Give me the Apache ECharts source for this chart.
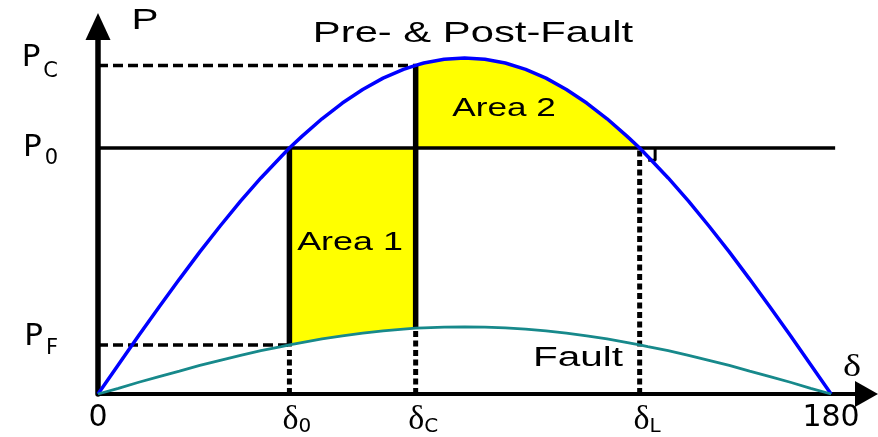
<!DOCTYPE html>
<html><head><meta charset="utf-8">
<script src="https://cdn.jsdelivr.net/npm/echarts@6/dist/echarts.min.js"></script>
<style>html,body{margin:0;padding:0;background:#fff}#c{width:878px;height:437px}</style>
</head><body><div id="c"></div>
<script>
// rotor angle samples (degrees)
const delta = [0,5,10,15,20,25,30,35,40,45,47,50,55,60,65,70,75,78,80,85,90,95,100,105,110,115,120,125,130,133,135,140,145,150,155,160,165,170,175,180];
// Pre- & Post-Fault power curve (per unit of Pmax)
const prePostFault = [0,0.087,0.174,0.259,0.342,0.423,0.500,0.574,0.643,0.707,0.732,0.766,0.819,0.866,0.906,0.940,0.966,0.978,0.985,0.996,1.000,0.996,0.985,0.966,0.940,0.906,0.866,0.819,0.766,0.732,0.707,0.643,0.574,0.500,0.423,0.342,0.259,0.174,0.087,0];
// Fault power curve
const fault = [0,0.017,0.035,0.052,0.068,0.085,0.100,0.115,0.129,0.141,0.146,0.153,0.164,0.173,0.181,0.188,0.193,0.196,0.197,0.199,0.200,0.199,0.197,0.193,0.188,0.181,0.173,0.164,0.153,0.146,0.141,0.129,0.115,0.100,0.085,0.068,0.052,0.035,0.017,0];
// key angles and powers
const d0 = 47, dC = 78, dL = 133;
const P0 = 0.732, PC = 0.978, PF = 0.146, FC = 0.196;
// tick labels
const xTickValues = [0, 47, 78, 133, 180];
const xTickMain = ['0', 'δ', 'δ', 'δ', '180'];
const xTickSub = ['', '0', 'C', 'L', ''];
const yTickValues = [0.146, 0.732, 0.978];
const yTickMain = ['P', 'P', 'P'];
const yTickSub = ['F', '0', 'C'];
const texts = ['Pre- & Post-Fault', 'Area 1', 'Area 2', 'Fault', 'P', 'δ'];

const chart = echarts.init(document.getElementById('c'));

function seg(pts, width, type) {
  return {type: 'line', data: pts, symbol: 'none', silent: true, animation: false, z: 3,
    lineStyle: {color: '#000', width: width, type: type || 'solid', cap: 'butt'}};
}

function areaPoints(idx) {
  const pts = [];
  if (idx === 0) {
    pts.push([d0, P0], [dC, P0]);
    for (let i = delta.length - 1; i >= 0; i--) if (delta[i] >= d0 && delta[i] <= dC) pts.push([delta[i], fault[i]]);
  } else {
    pts.push([dC, P0]);
    for (let i = 0; i < delta.length; i++) if (delta[i] >= dC && delta[i] <= dL) pts.push([delta[i], prePostFault[i]]);
    pts.push([dL, P0]);
  }
  return pts;
}

const yRichStyles = [
  {p: {padding: [0, 3, 16, 0]}, s: {padding: [7, 0, 0, 0]}},
  {p: {padding: [0, 3, 0, 0]}, s: {padding: [22, 0, 0, 0]}},
  {p: {padding: [0, 3, 14, 0]}, s: {padding: [13, 0, 0, 0]}}
];
const yRich = {};
yRichStyles.forEach((st, i) => {
  yRich['p' + i] = Object.assign({fontSize: 31, fontFamily: 'DejaVu Sans', color: '#000', verticalAlign: 'middle'}, st.p);
  yRich['s' + i] = Object.assign({fontSize: 21, fontFamily: 'DejaVu Sans', color: '#000', verticalAlign: 'middle'}, st.s);
});

function gtext(text, x, y, size, scaleX, family) {
  return {type: 'text', x: x, y: y, scaleX: scaleX, silent: true, z: 100,
    style: {text: text, font: size + 'px ' + (family || '"Liberation Sans"'), fill: '#000',
      align: 'center', verticalAlign: 'middle', textAlign: 'center', textVerticalAlign: 'middle'}};
}

const option = {
  animation: false,
  backgroundColor: '#fff',
  grid: {left: 98, right: 11.5, top: 26.5, bottom: 43},
  xAxis: {
    type: 'value', min: 0, max: 188.7,
    axisLine: {show: true, symbol: ['none', 'triangle'], symbolSize: [26, 23], lineStyle: {color: '#000', width: 4}},
    axisTick: {show: false}, splitLine: {show: false},
    axisLabel: {
      customValues: xTickValues, margin: 9,
      formatter: function (v) {
        const i = xTickValues.indexOf(v);
        if (i < 0) return '';
        return xTickSub[i] ? '{d|' + xTickMain[i] + '}{s|' + xTickSub[i] + '}' : '{n|' + xTickMain[i] + '}';
      },
      rich: {
        n: {fontSize: 30, fontFamily: 'DejaVu Sans', color: '#000', verticalAlign: 'middle', padding: [0, 0, 0, 0]},
        d: {fontSize: 34, fontFamily: 'Liberation Serif', color: '#000', verticalAlign: 'middle', padding: [0, 0, 0, 15]},
        s: {fontSize: 20, fontFamily: 'DejaVu Sans', color: '#000', verticalAlign: 'middle', padding: [13, 0, 0, 0]}
      }
    }
  },
  yAxis: {
    type: 'value', min: 0, max: 1.0937,
    axisLine: {show: true, symbol: ['none', 'triangle'], symbolSize: [25, 27], lineStyle: {color: '#000', width: 5.5}},
    axisTick: {show: false}, splitLine: {show: false},
    axisLabel: {
      customValues: yTickValues, margin: 40, align: 'right',
      formatter: function (v) {
        const i = yTickValues.indexOf(v);
        if (i < 0) return '';
        return '{p' + i + '|' + yTickMain[i] + '}{s' + i + '|' + yTickSub[i] + '}';
      },
      rich: yRich
    }
  },
  graphic: [
    gtext(texts[0], 473, 34, 29, 1.44),
    gtext(texts[1], 350, 243, 26, 1.38),
    gtext(texts[2], 504, 109, 26, 1.35),
    gtext(texts[3], 578, 359, 27, 1.5),
    gtext(texts[4], 145, 21, 30, 1.35),
    gtext(texts[5], 852, 368, 32, 1.2, '"Liberation Serif"')
  ],
  series: [
    {
      type: 'custom', silent: true, z: 1, data: [[0], [1]],
      renderItem: function (params, api) {
        const pts = areaPoints(params.dataIndex).map(p => api.coord(p));
        return {type: 'polygon', shape: {points: pts}, style: {fill: '#ffff00'}};
      }
    },
    seg([[0, P0], [181, P0]], 3.5),
    seg([[d0, PF], [d0, P0]], 5.5),
    seg([[dC, FC], [dC, PC]], 5.5),
    seg([[0, PC], [dC, PC]], 3.5, [10, 5]),
    seg([[0, PF], [d0, PF]], 3.5, [10, 5]),
    seg([[d0, 0], [d0, PF]], 5, [6, 3.5]),
    seg([[dC, 0], [dC, FC]], 5, [6, 3.5]),
    seg([[dL, 0], [dL, P0]], 5, [6, 3.5]),
    seg([[dL + 2.1, P0 - 0.036], [dL + 3.8, P0 - 0.036], [dL + 3.8, P0]], 3),
    {
      name: 'Pre- & Post-Fault', type: 'line', symbol: 'none', z: 5, silent: true,
      data: delta.map((d, i) => [d, prePostFault[i]]),
      lineStyle: {color: '#0000ff', width: 3.5}
    },
    {
      name: 'Fault', type: 'line', symbol: 'none', z: 5, silent: true,
      data: delta.map((d, i) => [d, fault[i]]),
      lineStyle: {color: '#17898b', width: 2.8}
    }
  ]
};
chart.setOption(option);
</script></body></html>
